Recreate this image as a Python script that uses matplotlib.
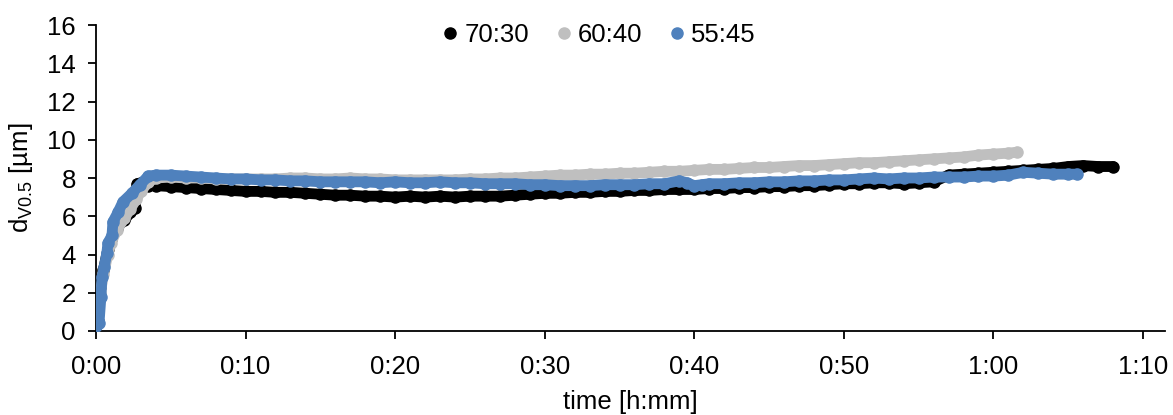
#!/usr/bin/env python3

import matplotlib
matplotlib.use("Agg")
import matplotlib.pyplot as plt
from matplotlib.lines import Line2D
from matplotlib.ticker import FuncFormatter, MultipleLocator

# ==========================
# DATA (time in minutes, d_V0.5 in um)
# ==========================
t_7030 = [0, 0.15, 0.3, 0.5, 0.8, 1.0, 1.4, 1.9, 2.3, 2.6, 2.75, 3.0, 3.5,
          4, 5, 6, 7, 8, 9, 10, 11, 12, 13, 14, 15, 16, 17, 18, 19, 20,
          21, 22, 23, 24, 25, 26, 27, 28, 29, 30, 31, 32, 33, 34, 35, 36,
          37, 38, 39, 40, 41, 42, 43, 44, 45, 46, 47, 48, 49, 50, 51, 52,
          53, 54, 55, 56, 57, 58, 59, 60, 61, 62, 63, 64, 65, 66, 67, 68]
d_7030 = [0.3, 0.5, 2.3, 3.2, 4.3, 4.8, 5.4, 5.8, 6.2, 6.45, 7.7, 7.75, 7.6,
          7.6, 7.55, 7.5, 7.45, 7.4, 7.35, 7.3, 7.3, 7.25, 7.25, 7.2, 7.15, 7.1, 7.1, 7.05, 7.05, 7.0,
          7.05, 7.0, 7.05, 7.0, 7.05, 7.05, 7.05, 7.1, 7.15, 7.2, 7.2, 7.25, 7.25, 7.3, 7.3, 7.35,
          7.35, 7.4, 7.4, 7.4, 7.45, 7.45, 7.5, 7.5, 7.55, 7.55, 7.6, 7.6, 7.65, 7.7, 7.7, 7.75,
          7.75, 7.7, 7.75, 7.8, 8.15, 8.2, 8.25, 8.3, 8.35, 8.4, 8.45, 8.5, 8.6, 8.65, 8.6, 8.6]

t_6040 = [0, 0.3, 0.5, 0.8, 1.0, 1.4, 1.9, 2.3, 2.7, 3.0, 3.5,
          4, 5, 6, 7, 8, 9, 10, 11, 12, 13, 14, 15, 16, 17, 18, 19, 20,
          21, 22, 23, 24, 25, 26, 27, 28, 29, 30, 31, 32, 33, 34, 35, 36,
          37, 38, 39, 40, 41, 42, 43, 44, 45, 46, 47, 48, 49, 50, 51, 52,
          53, 54, 55, 56, 57, 58, 59, 60, 61, 61.6]
d_6040 = [0.3, 2.0, 3.0, 4.0, 4.6, 5.3, 5.9, 6.4, 6.9, 7.3, 7.8,
          8.0, 8.05, 8.0, 8.0, 7.95, 7.95, 7.95, 7.95, 7.95, 8.0, 8.0, 7.95, 7.95, 8.0, 7.95, 7.95, 7.9,
          7.9, 7.9, 7.9, 7.9, 7.95, 7.95, 8.0, 8.0, 8.05, 8.1, 8.15, 8.15, 8.2, 8.2, 8.25, 8.25,
          8.3, 8.35, 8.35, 8.4, 8.45, 8.45, 8.5, 8.55, 8.55, 8.6, 8.65, 8.65, 8.7, 8.75, 8.8, 8.8,
          8.85, 8.9, 8.95, 9.0, 9.05, 9.1, 9.2, 9.25, 9.3, 9.35]

t_5545 = [0, 0.2, 0.33, 0.4, 0.55, 0.73, 0.8, 1.07, 1.13, 1.47, 1.8, 2.4, 2.94, 3.5,
          4, 5, 6, 7, 8, 9, 10, 11, 12, 13, 14, 15, 16, 17, 18, 19, 20,
          21, 22, 23, 24, 25, 26, 27, 28, 29, 30, 31, 32, 33, 34, 35, 36,
          37, 38, 39, 39.5, 40, 40.5, 41, 42, 43, 44, 45, 46, 47, 48, 49, 50,
          51, 52, 53, 54, 55, 56, 57, 58, 59, 60, 61, 62, 63, 64, 65, 65.6]
d_5545 = [0.25, 0.4, 1.8, 2.8, 3.35, 4.1, 4.6, 5.0, 5.7, 6.2, 6.75, 7.2, 7.65, 8.1,
          8.15, 8.15, 8.1, 8.05, 8.0, 7.95, 7.95, 7.9, 7.9, 7.85, 7.85, 7.8, 7.8, 7.8, 7.8, 7.75, 7.8,
          7.75, 7.75, 7.8, 7.75, 7.75, 7.7, 7.7, 7.7, 7.65, 7.65, 7.6, 7.6, 7.6, 7.65, 7.65, 7.65,
          7.7, 7.7, 7.85, 7.75, 7.6, 7.65, 7.7, 7.7, 7.75, 7.75, 7.8, 7.8, 7.85, 7.85, 7.9, 7.9,
          7.95, 8.0, 7.95, 8.0, 8.0, 8.05, 8.05, 8.05, 8.1, 8.1, 8.15, 8.3, 8.25, 8.2, 8.2, 8.2]

labels = ["70:30", "60:40", "55:45"]
colors = ["#000000", "#BFBFBF", "#4F81BD"]

# ==========================
# STYLE
# ==========================
plt.rcParams["font.family"] = ["Liberation Sans", "DejaVu Sans"]
plt.rcParams["mathtext.fontset"] = "custom"
plt.rcParams["mathtext.rm"] = "Liberation Sans"

FONT = 18.5
BAND_W = 7.8
MARKER = 8

fig = plt.figure(figsize=(11.73, 4.15), dpi=100)
ax = fig.add_axes([96 / 1173, 1 - 331 / 415, (1165 - 96) / 1173, (331 - 25) / 415])

series = [(t_7030, d_7030), (t_6040, d_6040), (t_5545, d_5545)]
for (t, d), c in zip(series, colors):
    ax.plot(t, d, color=c, linewidth=BAND_W, marker="o", markersize=MARKER,
            solid_capstyle="round", solid_joinstyle="round", zorder=3)

# ==========================
# AXES
# ==========================
ax.set_xlim(0, 71.47)
ax.set_ylim(0, 16)
ax.xaxis.set_major_locator(MultipleLocator(10))
ax.yaxis.set_major_locator(MultipleLocator(2))
ax.xaxis.set_major_formatter(FuncFormatter(lambda v, p: f"{int(v // 60)}:{int(round(v % 60)):02d}"))

for s in ["top", "right"]:
    ax.spines[s].set_visible(False)
for s in ["left", "bottom"]:
    ax.spines[s].set_linewidth(1.3)
    ax.spines[s].set_color("#000000")

ax.tick_params(axis="both", direction="out", length=5.5, width=1.3, labelsize=FONT, colors="#000000")
ax.tick_params(axis="y", pad=9)
ax.tick_params(axis="x", pad=12)

ax.set_xlabel("time [h:mm]", fontsize=FONT, labelpad=8)
ax.set_ylabel(r"d$_{\mathregular{V0.5}}$ [µm]", fontsize=FONT, labelpad=9)

# ==========================
# LEGEND
# ==========================
handles = [Line2D([], [], linestyle="none", marker="o", markersize=8, color=c) for c in colors]
fig.legend(handles, labels, loc="center", bbox_to_anchor=(600 / 1173, 1 - 35 / 415),
           ncol=3, frameon=False, fontsize=FONT, handlelength=0.5,
           handletextpad=0.3, columnspacing=1.1, borderpad=0)

fig.savefig("out.png", dpi=100)
plt.close(fig)
